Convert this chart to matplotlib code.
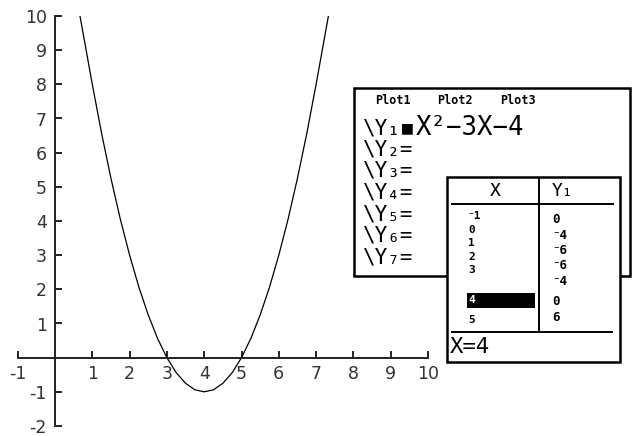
import matplotlib.pyplot as plt
from matplotlib.patches import Rectangle

# curve
curve_x = [0.67, 1.0, 1.25, 1.5, 1.75, 2.0, 2.25, 2.5, 2.75, 3.0, 3.25, 3.5, 3.75, 4.0,
           4.25, 4.5, 4.75, 5.0, 5.25, 5.5, 5.75, 6.0, 6.25, 6.5, 6.75, 7.0, 7.33]
curve_y = [10.0, 8.0, 6.56, 5.25, 4.06, 3.0, 2.06, 1.25, 0.56, 0.0, -0.44, -0.75, -0.94, -1.0,
           -0.94, -0.75, -0.44, 0.0, 0.56, 1.25, 2.06, 3.0, 4.06, 5.25, 6.56, 8.0, 10.0]

x_ticks = [-1, 1, 2, 3, 4, 5, 6, 7, 8, 9, 10]
y_ticks = [-2, -1, 1, 2, 3, 4, 5, 6, 7, 8, 9, 10]

# calculator screens
plot_labels = ["Plot1", "Plot2", "Plot3"]
y_entries = ["\\Y₂=", "\\Y₃=", "\\Y₄=", "\\Y₅=", "\\Y₆=", "\\Y₇="]
y1_expr = "X²−3X−4"
table_x = ["⁻1", "0", "1", "2", "3", "4", "5"]
table_y1 = ["0", "⁻4", "⁻6", "⁻6", "⁻4", "0", "6"]
selected_row = 5
status_text = "X=4"

W, H = 634, 436
fig = plt.figure(figsize=(W / 100, H / 100), dpi=100)

# graph axes: x -1..10 spans px 17.7..428, y 10..-2 spans px 16..426
ax = fig.add_axes([17.7 / W, (H - 426) / H, (428 - 17.7) / W, 410 / H])
ax.plot(curve_x, curve_y, color="black", lw=0.9)
ax.set_xlim(-1, 10)
ax.set_ylim(-2, 10)
for side in ["top", "right"]:
    ax.spines[side].set_visible(False)
ax.spines["left"].set_position(("data", 0))
ax.spines["bottom"].set_position(("data", 0))
for side in ["left", "bottom"]:
    ax.spines[side].set_linewidth(1.4)
    ax.spines[side].set_color("#222222")
ax.set_xticks(x_ticks)
ax.set_yticks(y_ticks)
ax.set_xticklabels([str(v) for v in x_ticks])
ax.set_yticklabels([str(v) for v in y_ticks])
ax.tick_params(direction="in", length=5, width=1.4, colors="#222222",
               labelsize=12.5, labelcolor="#333333")
ax.tick_params(axis="y", pad=6)
ax.tick_params(axis="x", pad=5)
ax.patch.set_alpha(0)

# overlay in pixel coordinates for the calculator screenshots
ov = fig.add_axes([0, 0, 1, 1], zorder=5)
ov.set_xlim(0, W)
ov.set_ylim(H, 0)
ov.axis("off")
ov.patch.set_alpha(0)

mono = ["DejaVu Sans Mono", "DejaVu Sans"]

# first screen: Y= editor
ov.add_patch(Rectangle((354, 88), 276, 188, fc="white", ec="black", lw=1.8))
for label, px in zip(plot_labels, [375, 437, 500]):
    ov.text(px, 100, label, family=mono, weight="bold", fontsize=8.5, va="center", ha="left")
ov.text(363, 128, "\\Y₁", family=mono, fontsize=15, va="center", ha="left")
ov.text(402, 128, "■", family=mono, fontsize=13, va="center", ha="left")
ov.text(416, 128, y1_expr, family=mono, fontsize=18.5, va="center", ha="left")
for i, entry in enumerate(y_entries):
    ov.text(363, 149 + i * 21.7, entry, family=mono, fontsize=15, va="center", ha="left")

# second screen: table
ov.add_patch(Rectangle((447, 177), 173, 185, fc="white", ec="black", lw=1.8, zorder=3))
ov.plot([452, 613], [204, 204], color="black", lw=1.4, zorder=4)
ov.plot([539, 539], [179, 332], color="black", lw=1.4, zorder=4)
ov.plot([452, 612], [332, 332], color="black", lw=1.4, zorder=4)
ov.text(495, 191, "X", family=mono, fontsize=13, va="center", ha="center", zorder=4)
ov.text(552, 191, "Y₁", family=mono, fontsize=13, va="center", ha="left", zorder=4)

x_rows = [216, 229.5, 243, 256.5, 270, 300, 320]
y_rows = [219, 235, 250, 265, 281, 301, 317]
ov.add_patch(Rectangle((467, 293), 68, 15, fc="black", ec="none", zorder=4))
for i, (xv, yv) in enumerate(zip(table_x, table_y1)):
    col = "white" if i == selected_row else "black"
    ov.text(468, x_rows[i], xv, family=mono, weight="bold", fontsize=8,
            va="center", ha="left", color=col, zorder=5)
    ov.text(552, y_rows[i], yv, family=mono, weight="bold", fontsize=9,
            va="center", ha="left", zorder=5)
ov.text(450, 347, status_text, family=mono, fontsize=16, va="center", ha="left", zorder=5)

fig.savefig("out.png", dpi=100)
